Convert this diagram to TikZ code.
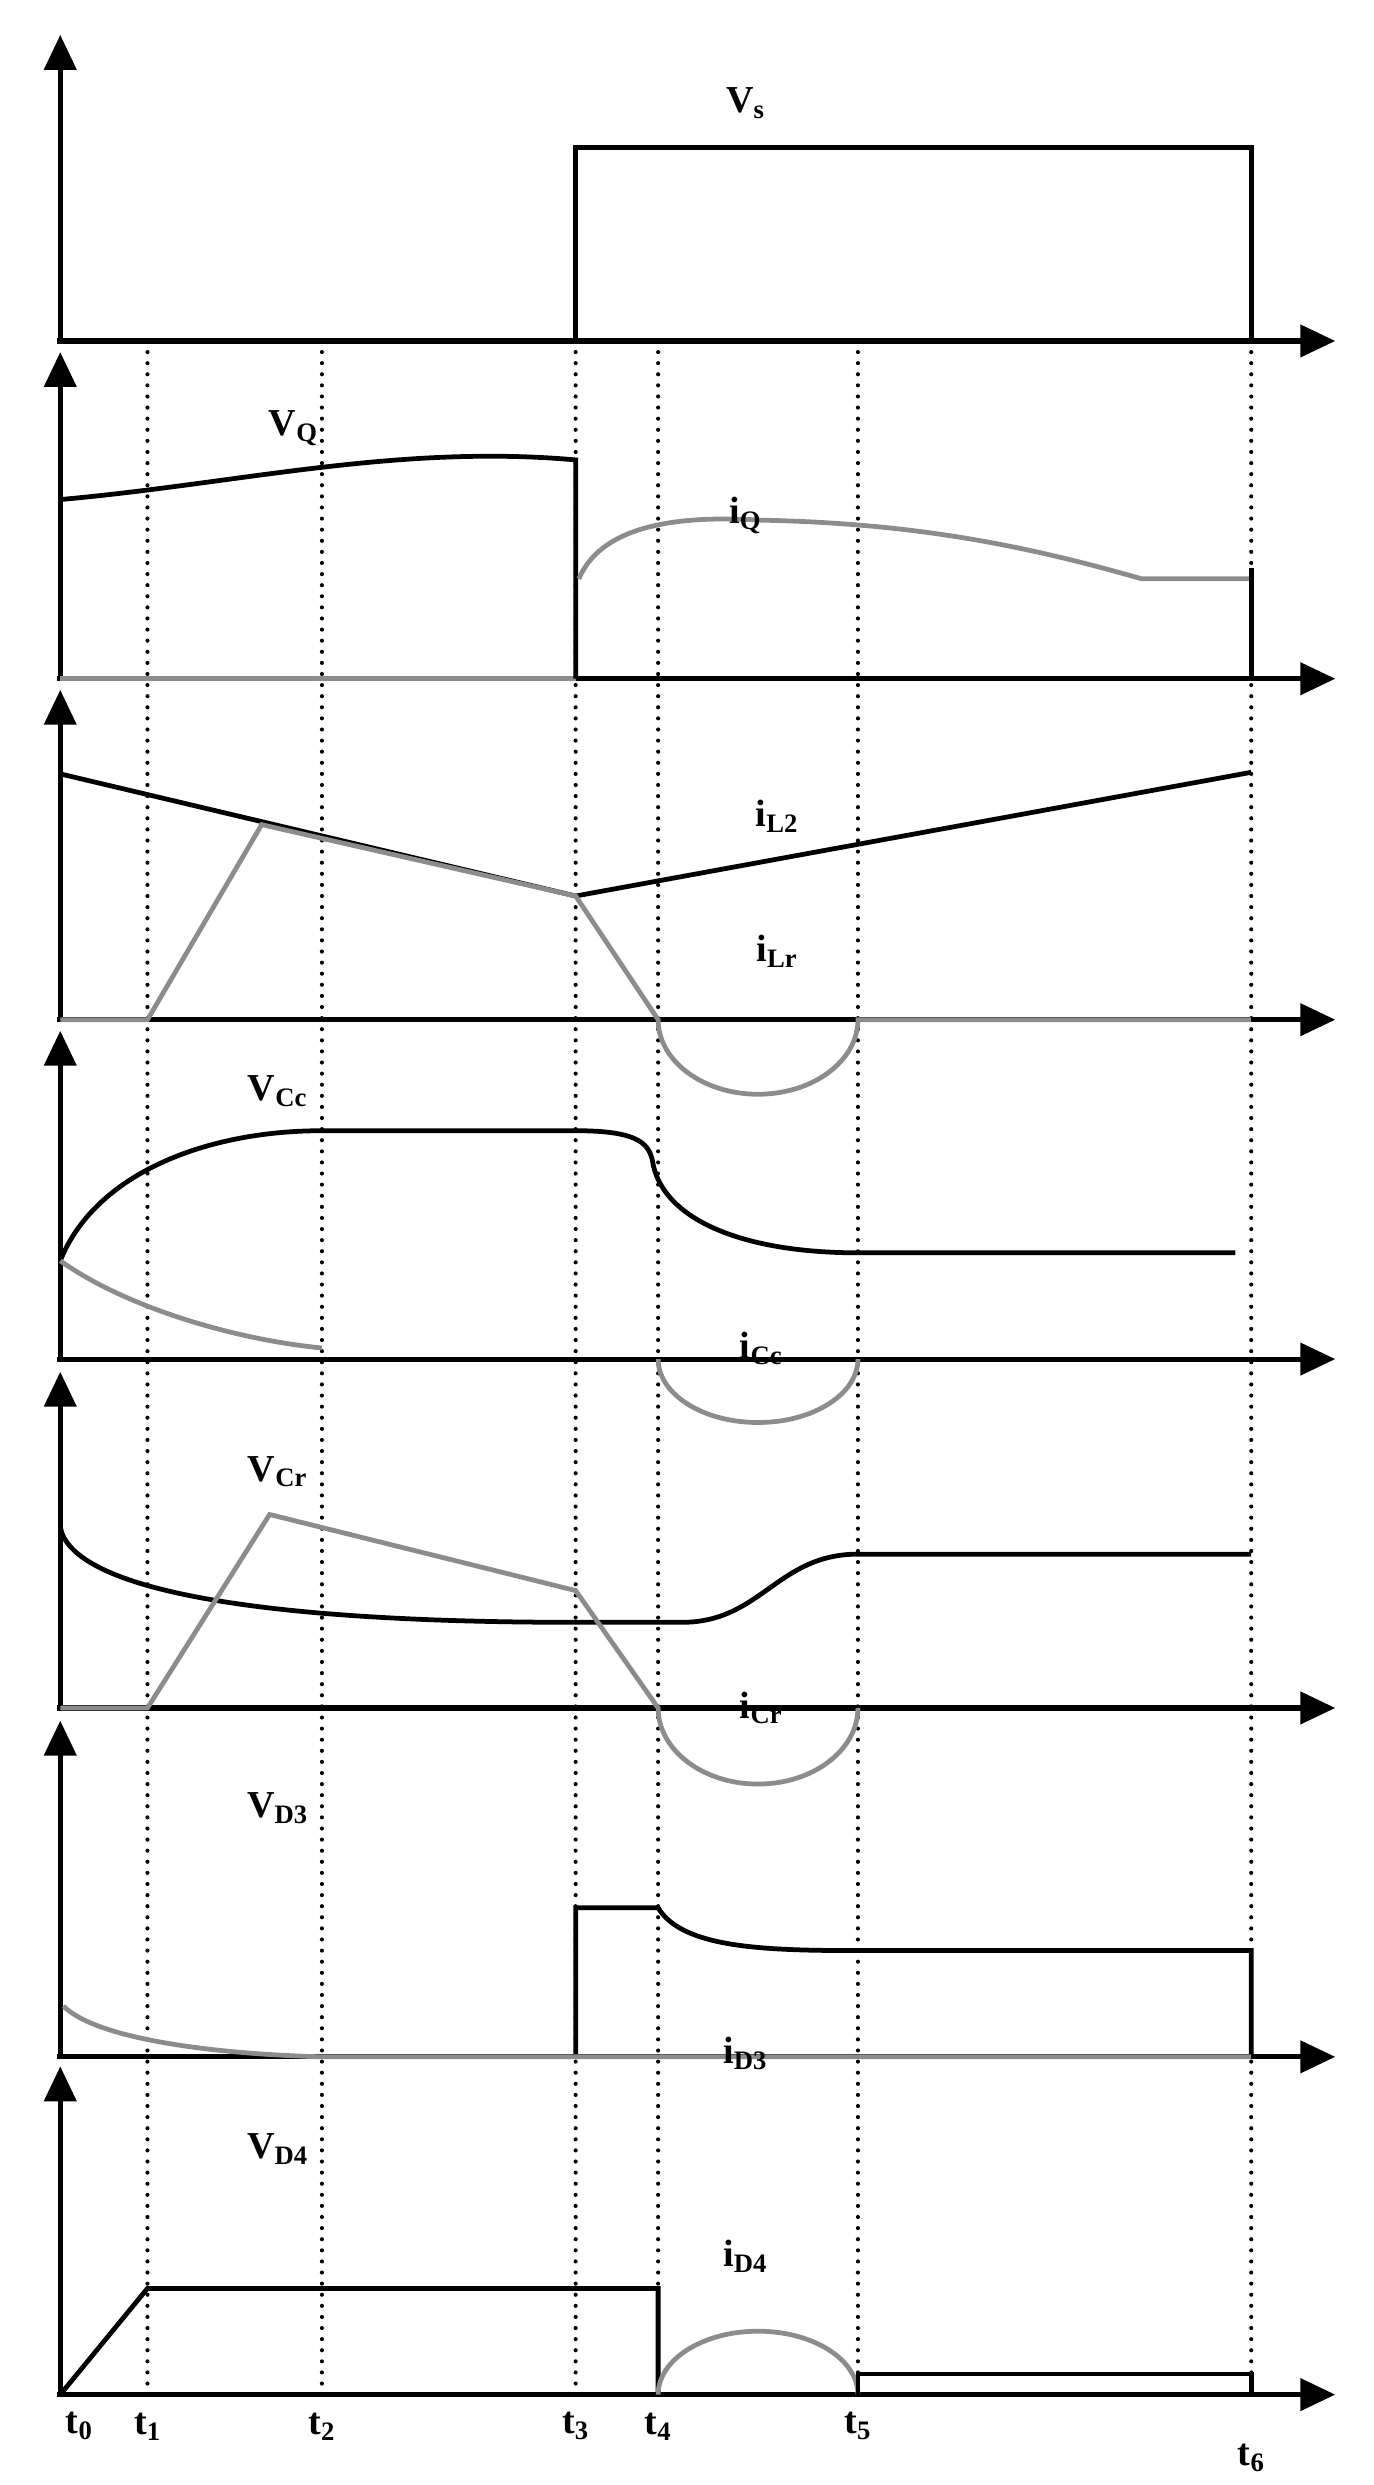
\documentclass[tikz,border=0pt]{standalone}
\usetikzlibrary{arrows.meta}
\usepackage{fontspec}
\setmainfont{Liberation Serif}
\begin{document}
\begin{tikzpicture}[x=1pt,y=-1pt,
 ax/.style={line width=3.2pt,-{Triangle[length=22pt,width=20pt]}},
 blk/.style={line width=3pt,black},
 gry/.style={line width=3pt,gray!90},
 dot/.style={line width=2.6pt,line cap=round,dash pattern=on 0pt off 7pt},
 lab/.style={font=\fontsize{24}{26}\selectfont\bfseries}]
\useasboundingbox (0,0) rectangle (866,1567);
% dotted time lines
\foreach \x in {93,203,363,415,541,789} \draw[dot] (\x,215) -- (\x,1510);
% axes
\foreach \b/\t in {215/22,428/222,643/435,857/650,1077/865,1297/1085,1510/1303}{
 \draw[ax] (38,\b) -- (38,\t);
 \draw[ax] (36,\b) -- (842,\b);}
% panel 1
\draw[blk] (363,215) -- (363,93) -- (789,93) -- (789,215);
\node[lab] (vs) at (470,65) {V\textsubscript{s}};
% panel 2
\draw[gry] (38,428) -- (363,428);
\draw[blk] (38,315) .. controls (150,305) and (250,280) .. (363,290) -- (363,428);
\draw[gry] (365,365) .. controls (380,330) and (430,325) .. (480,328) .. controls (580,330) and (650,345) .. (720,365) -- (789,365);
\draw[blk] (789,428) -- (789,358);
\node[lab] (vq) at (185,270) {V\textsubscript{Q}};
\node[lab] (iq) at (470,325) {i\textsubscript{Q}};
% panel 3
\draw[blk] (38,488) -- (363,565) -- (789,487);
\draw[gry] (38,643) -- (93,643) -- (165,520) -- (363,565) -- (415,643) arc[start angle=180,end angle=0,x radius=63,y radius=47] -- (789,643);
\node[lab] (il2) at (490,515) {i\textsubscript{L2}};
\node[lab] (ilr) at (490,600) {i\textsubscript{Lr}};
% panel 4
\draw[blk] (38,795) .. controls (60,740) and (130,713) .. (203,713) -- (363,713) .. controls (405,713) and (410,722) .. (412,735) .. controls (420,770) and (470,790) .. (541,790) -- (779,790);
\draw[gry] (38,795) .. controls (80,825) and (150,845) .. (203,850);
\draw[gry] (415,857) arc[start angle=180,end angle=0,x radius=63,y radius=40];
\node[lab] (vcc) at (175,688) {V\textsubscript{Cc}};
\node[lab] (icc) at (480,850) {i\textsubscript{Cc}};
% panel 5
\draw[blk] (38,963) .. controls (45,1000) and (150,1023) .. (363,1023) -- (430,1023) .. controls (480,1023) and (490,980) .. (541,980) -- (789,980);
\draw[gry] (38,1077) -- (93,1077) -- (170,955) -- (363,1003) -- (415,1077) arc[start angle=180,end angle=0,x radius=63,y radius=48];
\node[lab] (vcr) at (175,928) {V\textsubscript{Cr}};
\node[lab] (icr) at (480,1077) {i\textsubscript{Cr}};
% panel 6
\draw[blk] (363,1297) -- (363,1203) -- (415,1203) .. controls (430,1228) and (480,1230) .. (541,1230) -- (789,1230) -- (789,1297);
\draw[gry] (40,1265) .. controls (60,1285) and (130,1295) .. (203,1297) -- (789,1297);
\node[lab] (vd3) at (175,1140) {V\textsubscript{D3}};
\node[lab] (id3) at (470,1295) {i\textsubscript{D3}};
% panel 7
\draw[blk] (38,1510) -- (93,1443) -- (415,1443) -- (415,1510);
\draw[gry] (415,1510) arc[start angle=180,end angle=360,x radius=63,y radius=40];
\draw[blk] (541,1510) -- (541,1497) -- (789,1497) -- (789,1510);
\node[lab] (vd4) at (175,1355) {V\textsubscript{D4}};
\node[lab] (id4) at (470,1423) {i\textsubscript{D4}};
% time labels
\foreach \n/\x/\y in {0/50/1530,1/93/1530,2/203/1530,3/363/1530,4/415/1530,5/541/1530,6/789/1550}
 \node[lab] (t\n) at (\x,\y) {t\textsubscript{\n}};
\end{tikzpicture}
\end{document}
